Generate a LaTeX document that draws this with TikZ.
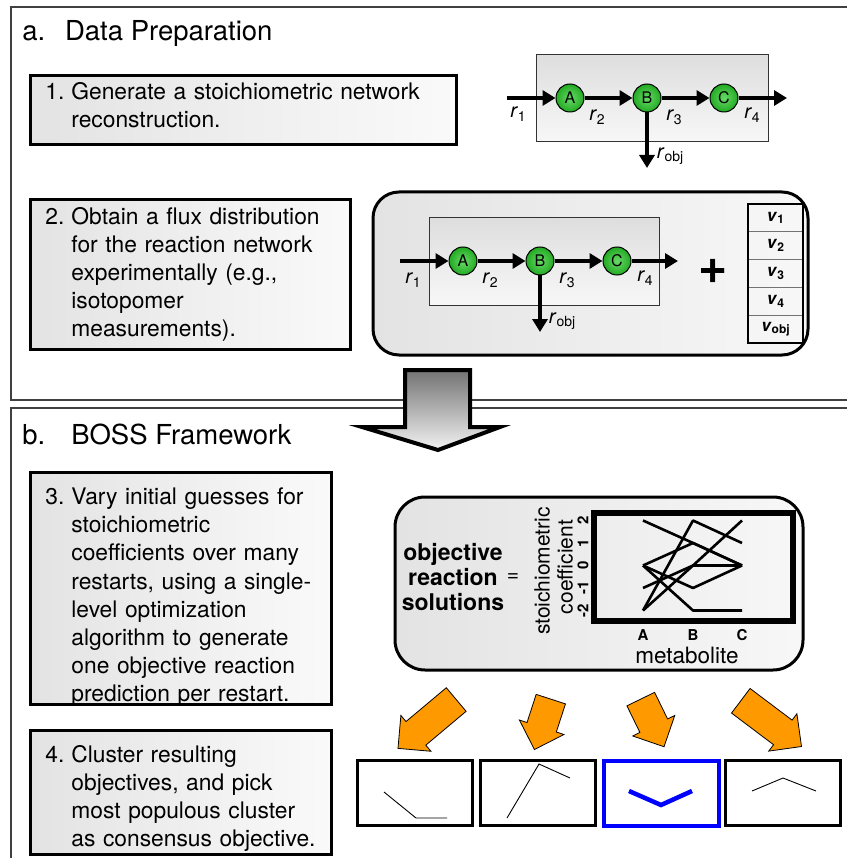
\documentclass[tikz,border=0pt]{standalone}
\usepackage{fontspec}
\setmainfont{TeX Gyre Heros}
\usetikzlibrary{arrows.meta,shapes.arrows}

\definecolor{metgreen}{RGB}{40,200,40}
\definecolor{boxorange}{RGB}{255,153,0}
\definecolor{clblue}{RGB}{0,0,255}

\newcommand{\rr}[1]{\textit{r}\raisebox{-0.35ex}{\fontsize{14}{14}\selectfont #1}}
\newcommand{\vv}[1]{\textbf{\textit{v}\raisebox{-0.3ex}{\fontsize{12}{12}\selectfont #1}}}
\newcommand{\steptext}[4][0pt]{\noindent\raisebox{-#1}[\height][\depth]{\makebox[26pt][l]{#2}\parbox[t]{#3}{#4}}}

\begin{document}
\begin{tikzpicture}[x=1pt,y=-1pt,>={Triangle[length=13pt,width=15pt]},
                    node distance=77pt,semithick]
    \tikzset{frame/.style={draw=black!75,line width=1.2pt},
             title/.style={anchor=west,inner sep=0pt,font=\fontsize{27.5}{27.5}\selectfont},
             stepbox/.style={draw,line width=2.8pt,left color=black!11,right color=black!2,
                 anchor=north west,inner xsep=15pt,align=left,
                 font=\fontsize{22.8}{28.2}\selectfont},
             panel/.style={draw,line width=3pt,left color=black!11,right color=black!3},
             netbox/.style={draw=black!80,line width=1pt,top color=black!13,bottom color=black!3},
             met/.style={circle,draw,line width=1pt,inner color=metgreen!70!white,
                 outer color=metgreen!85!black,minimum size=28pt,inner sep=0pt,
                 font=\fontsize{16}{16}\selectfont},
             flux/.style={line width=4pt,->},
             lbl/.style={inner sep=0pt,font=\fontsize{20}{20}\selectfont},
             cell/.style={draw=black!55,line width=0.8pt,minimum width=55pt,
                 minimum height=27.8pt,inner sep=0pt,font=\fontsize{17}{17}\selectfont},
             bigarrow/.style={draw,line width=4pt,line join=miter,top color=black!55,bottom color=black!5},
             axtext/.style={inner sep=0pt,font=\fontsize{21}{21}\selectfont},
             tick/.style={inner sep=0pt,font=\bfseries\fontsize{15}{15}\selectfont},
             orarrow/.style={single arrow,draw,line width=0.8pt,fill=boxorange,inner xsep=0pt,
                 inner ysep=15pt,single arrow head extend=8pt},
             clbox/.style={draw,line width=3pt,anchor=north west,minimum width=115pt,
                 minimum height=65pt,inner sep=0pt}}
    \useasboundingbox (0,0) rectangle (846,858);

    % the two frames
    \draw[frame] (11,7) rectangle (870,400);
    \draw[frame] (11,408) rectangle (870,880);
    \node[title] (ta) at (22,33) {a.\hspace{0.72em}Data Preparation};
    \node[title] (tb) at (22,434) {b.\hspace{0.95em}BOSS Framework};

    % steps
    \node[stepbox,text width=396pt,minimum height=69pt] (s1) at (29,74)
        {\steptext[-5pt]{1.}{370pt}{Generate a stoichiometric network\\reconstruction.}};
    \node[stepbox,text width=290pt,minimum height=150pt] (s2) at (29,198)
        {\steptext{2.}{264pt}{Obtain a flux distribution\\for the reaction network\\experimentally (e.g.,\\isotopomer\\measurements).}};
    \node[stepbox,text width=271pt,minimum height=232pt] (s3) at (29,471)
        {\steptext[9pt]{3.}{245pt}{Vary initial guesses for\\stoichiometric\\coefficients over many\\restarts, using a single-\\level optimization\\algorithm to generate\\one objective reaction\\prediction per restart.}};
    \node[stepbox,text width=271pt,minimum height=124pt] (s4) at (29,729)
        {\steptext[6pt]{4.}{245pt}{Cluster resulting\\objectives, and pick\\most populous cluster\\as consensus objective.}};

    % network
    \node[netbox,minimum width=232pt,minimum height=87pt] (n1) at (652,98.5) {};
    \coordinate (i1) at (507,98);
    \node[met] (a1) at (570,98) {A};
    \node[met,right of=a1] (b1) {B};
    \node[met,right of=b1] (c1) {C};
    \coordinate (o1) at (787,98);
    \coordinate[below of=b1,node distance=70pt] (d1);
    \draw[flux] (i1) -- (a1);
    \draw[flux] (a1) -- (b1);
    \draw[flux] (b1) -- (c1);
    \draw[flux] (c1) -- (o1);
    \draw[flux] (b1) -- (d1);
    \node[lbl] (r11) at (518,114) {\rr{1}};
    \node[lbl] (r12) at (597,117) {\rr{2}};
    \node[lbl] (r13) at (674,117) {\rr{3}};
    \node[lbl] (r14) at (752,115) {\rr{4}};
    \node[lbl] (r1o) at (670,156) {\rr{obj}};

    % flux distribution
    \node[panel,rounded corners=26pt,minimum width=435pt,minimum height=163pt] (fp) at (590.5,273.5) {};
    \node[netbox,minimum width=230pt,minimum height=87pt] (n2) at (544,261.5) {};
    \coordinate (i2) at (400,261);
    \node[met] (a2) at (463,261) {A};
    \node[met,right of=a2] (b2) {B};
    \node[met,right of=b2] (c2) {C};
    \coordinate (o2) at (678,261);
    \coordinate[below of=b2,node distance=71pt] (d2);
    \draw[flux] (i2) -- (a2);
    \draw[flux] (a2) -- (b2);
    \draw[flux] (b2) -- (c2);
    \draw[flux] (c2) -- (o2);
    \draw[flux] (b2) -- (d2);
    \node[lbl] (r21) at (413,280) {\rr{1}};
    \node[lbl] (r22) at (490,280) {\rr{2}};
    \node[lbl] (r23) at (567,280) {\rr{3}};
    \node[lbl] (r24) at (645,278) {\rr{4}};
    \node[lbl] (r2o) at (562,321) {\rr{obj}};
    \node[inner sep=0pt,font=\bfseries\fontsize{50}{50}\selectfont] (plus) at (713,271) {+};
    \foreach \i/\t in {1/1,2/2,3/3,4/4,5/obj}
        \node[cell] (v\i) at (775.5,{204+27.8*(\i-0.5)}) {\vv{\t}};
    \draw[line width=2pt] (v1.north west) rectangle (v5.south east);

    % big arrow between the frames
    \draw[bigarrow] (405,370) -- (470,370) -- (470,427) -- (500,427) -- (438,450)
        -- (362,427) -- (405,427) -- cycle;

    % objective reaction solutions
    \node[panel,rounded corners=30pt,minimum width=408pt,minimum height=173pt] (gp) at (599,583.5) {};
    \node[inner sep=0pt,align=center,font=\bfseries\fontsize{23}{25}\selectfont] (obj) at (453,577)
        {objective\\reaction\\solutions};
    \node[axtext] (eq) at (513,578) {=};
    \node[axtext,rotate=90] (st) at (542,571) {stoichiometric};
    \node[axtext,rotate=90] (co) at (565,567) {coefficient};
    \foreach \v [count=\k] in {-2,...,2}
        \node[tick,rotate=90] (y\k) at (583,{565.5-22.5*\v}) {\v};
    \node[draw,line width=6pt,minimum width=199pt,minimum height=108pt] (pl) at (693.5,567) {};
    \foreach \a/\b/\c in {2/1/0,-2/2/1,-2/0/2,0/1/0,0/-1/0,0/-2/-2,-1/0/0}
        \draw[line width=2.6pt,line join=round] (643,{565.5-22.5*\a}) -- (693,{565.5-22.5*\b})
            -- (742,{565.5-22.5*\c});
    \node[tick] (xa) at (643,635) {A};
    \node[tick] (xb) at (693,635) {B};
    \node[tick] (xc) at (742,635) {C};
    \node[axtext,font=\fontsize{22.5}{22.5}\selectfont] (mb) at (687,655) {metabolite};

    % clustering
    \node[orarrow,minimum height=76pt,rotate=220] (p1) at (433,719) {};
    \node[orarrow,minimum height=53pt,rotate=252] (p2) at (545,717) {};
    \node[orarrow,minimum height=53pt,rotate=296] (p3) at (649,716) {};
    \node[orarrow,minimum height=76pt,rotate=323] (p4) at (765,719) {};
    \node[clbox] (k1) at (356,759) {};
    \node[clbox] (k2) at (479,759) {};
    \node[clbox,draw=clblue,line width=4pt] (k3) at (602,759) {};
    \node[clbox] (k4) at (724,759) {};
    \draw[line width=0.9pt] (384,792) -- (416,818) -- (447,818);
    \draw[line width=0.9pt] (507,818) -- (539,764) -- (570,778);
    \draw[clblue,line width=4.5pt] (629,791) -- (661,805) -- (692,791);
    \draw[line width=0.9pt] (752,791) -- (783,778) -- (816,791);
\end{tikzpicture}
\end{document}
